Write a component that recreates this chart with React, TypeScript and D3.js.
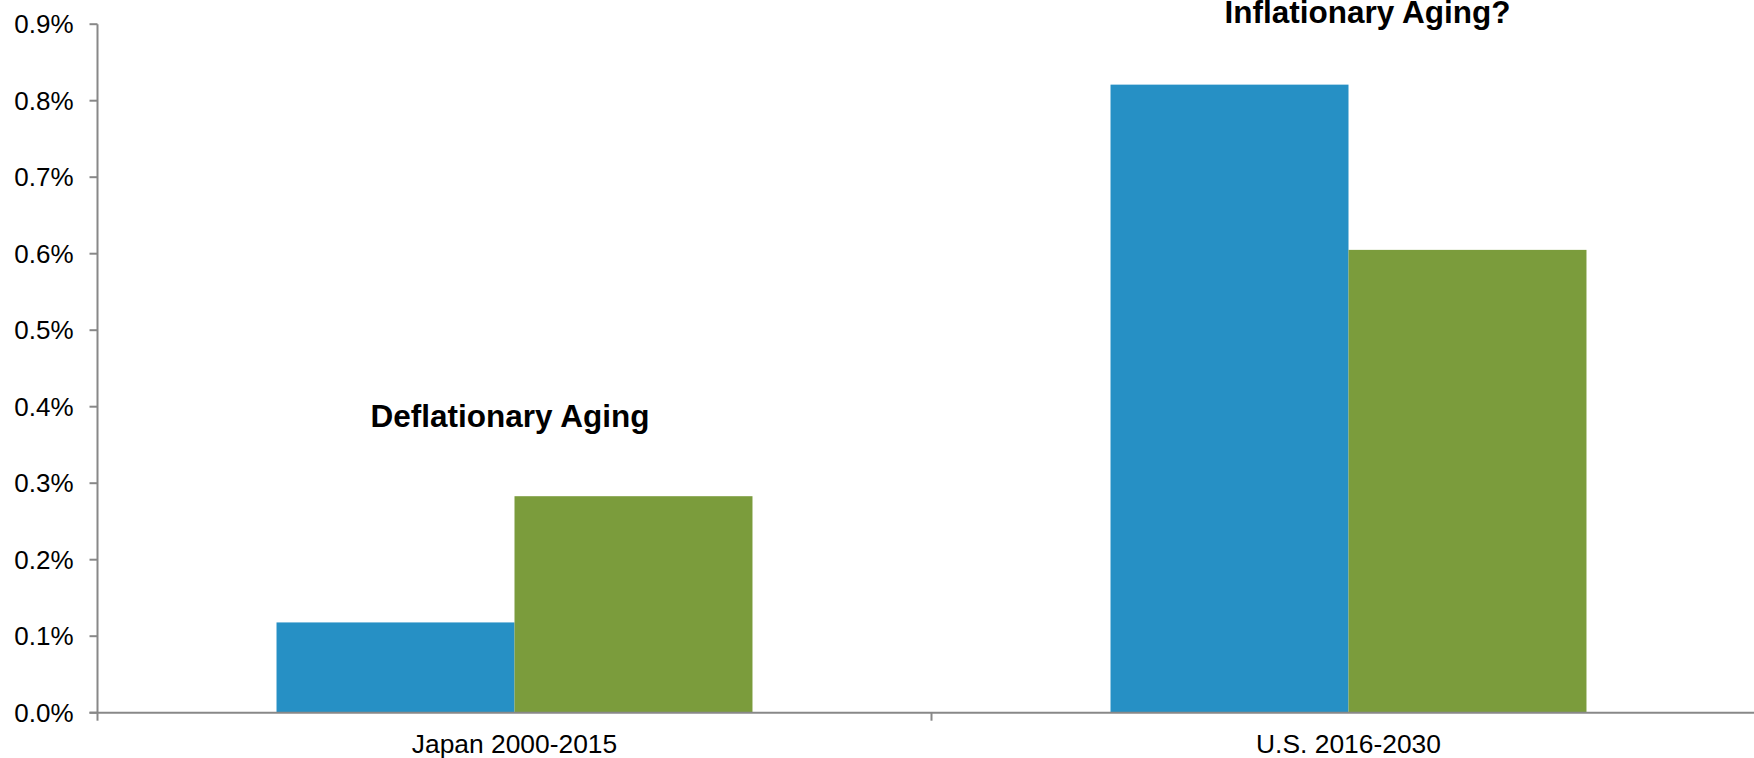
import React, { useEffect } from "react";
import * as d3 from "d3";

// Periods compared on the category axis
const categories = ["Japan 2000-2015", "U.S. 2016-2030"];

// Two series per period (values in fraction, 0.01 = 1%)
const seriesNames = ["Series 1", "Series 2"];
const series1Values = [0.00118, 0.00821];
const series2Values = [0.00283, 0.00605];

// Y axis ticks
const yTicks = [0, 0.001, 0.002, 0.003, 0.004, 0.005, 0.006, 0.007, 0.008, 0.009];

// Text annotations over each group
const annotations = [
  { category: "Japan 2000-2015", text: "Deflationary Aging" },
  { category: "U.S. 2016-2030", text: "Inflationary Aging?" },
];

const WIDTH = 1754;
const HEIGHT = 758;
const AXIS_COLOR = "#888888";
const COLORS = ["#2690c5", "#7b9c3c"];
const FONT = "'Liberation Sans', Arial, Helvetica, sans-serif";

export default function App() {
  useEffect(() => {
    document.body.style.margin = "0";
    document.body.style.overflow = "hidden";
  }, []);

  const x0 = 97.5;
  const step = 834;
  const groupPad = 0.4293;
  const x = d3
    .scaleBand<string>()
    .domain(categories)
    .range([x0, x0 + step * categories.length])
    .paddingInner(groupPad)
    .paddingOuter(groupPad / 2);

  const xInner = d3
    .scaleBand<string>()
    .domain(seriesNames)
    .range([0, x.bandwidth()])
    .padding(0);

  const y = d3.scaleLinear().domain([0, 0.009]).range([712.7, 24.2]);
  const fmt = d3.format(".1%");

  const rows = categories.map((c, i) => ({
    category: c,
    values: [series1Values[i], series2Values[i]],
  }));

  const annY = [427, 23];

  return (
    <svg
      width={WIDTH}
      height={HEIGHT}
      style={{ position: "absolute", left: 0, top: 0, display: "block", background: "#fff" }}
      fontFamily={FONT}
    >
      {/* bars */}
      {rows.map((r) => (
        <g key={r.category} transform={`translate(${x(r.category)},0)`}>
          {r.values.map((v, si) => (
            <rect
              key={si}
              x={xInner(seriesNames[si])}
              y={y(v)}
              width={xInner.bandwidth()}
              height={y(0) - y(v)}
              fill={COLORS[si]}
            />
          ))}
        </g>
      ))}

      {/* y axis */}
      <line x1={x0} x2={x0} y1={y(0.009)} y2={y(0)} stroke={AXIS_COLOR} strokeWidth={2} />
      {yTicks.map((t) => (
        <g key={t}>
          <line x1={x0 - 8} x2={x0} y1={y(t)} y2={y(t)} stroke={AXIS_COLOR} strokeWidth={2} />
          <text
            x={73.5}
            y={y(t)}
            dy="0.35em"
            textAnchor="end"
            fontSize={26}
            fill="#000"
          >
            {fmt(t)}
          </text>
        </g>
      ))}

      {/* x axis */}
      <line x1={x0 - 8} x2={x0 + step * categories.length} y1={y(0)} y2={y(0)} stroke={AXIS_COLOR} strokeWidth={2} />
      {d3.range(categories.length + 1).map((i) => (
        <line
          key={i}
          x1={x0 + step * i}
          x2={x0 + step * i}
          y1={y(0)}
          y2={y(0) + 8}
          stroke={AXIS_COLOR}
          strokeWidth={2}
        />
      ))}
      {categories.map((c) => (
        <text
          key={c}
          x={(x(c) as number) + x.bandwidth() / 2}
          y={753}
          textAnchor="middle"
          fontSize={26.4}
          fill="#000"
        >
          {c}
        </text>
      ))}

      {/* annotations */}
      {annotations.map((a, i) => (
        <text
          key={a.text}
          x={(x(a.category) as number) + x.bandwidth() / 2 + (i === 0 ? -4.5 : 19)}
          y={annY[i]}
          textAnchor="middle"
          fontSize={31.5}
          fontWeight="bold"
          fill="#000"
        >
          {a.text}
        </text>
      ))}
    </svg>
  );
}
